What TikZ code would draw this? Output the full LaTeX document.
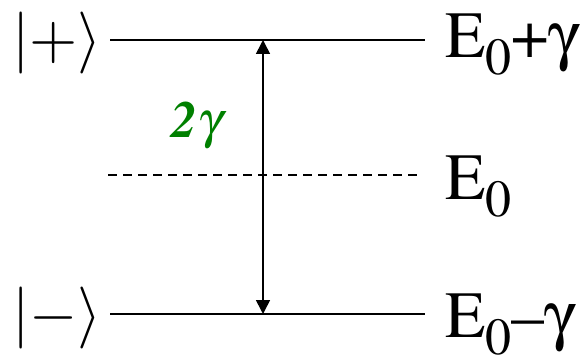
\RequirePackage{fix-cm}
\documentclass[tikz,border=0pt]{standalone}
\usepackage[T1]{fontenc}
\usepackage{mathptmx}
\usepackage{amsmath}
\usepackage{tikz}
\usetikzlibrary{positioning, arrows.meta}
\definecolor{splitgreen}{RGB}{0,128,0}
\newcommand{\lowzero}{\raisebox{-17pt}{\fontsize{52}{56}\selectfont 0}}
\newcommand{\upgam}{{\usefont{U}{psy}{m}{n}g}}

\begin{document}
\begin{tikzpicture}[x=1pt, y=-1pt,
    level/.style={line width=2pt},
    halflevel/.style={line width=2pt, dash pattern=on 9pt off 6pt},
    statelbl/.style={inner sep=0pt, anchor=west, font=\fontsize{62}{70}\selectfont},
    energylbl/.style={inner sep=0pt, anchor=base west, font=\fontsize{66}{72}\selectfont},
    gaplbl/.style={inner sep=0pt, text=splitgreen, font=\fontsize{52}{56}\selectfont\bfseries\itshape}]
    \useasboundingbox (0,0) rectangle (583,358);
    % ---------------- levels
    \coordinate (pl) at (110,40);  \coordinate (pr) at (425,40);
    \coordinate (zl) at (108,175); \coordinate (zr) at (420,175);
    \coordinate (ml) at (110,314); \coordinate (mr) at (425,314);
    \draw[level] (pl) -- (pr);
    \draw[halflevel] (zl) -- (zr);
    \draw[level] (ml) -- (mr);
    % ---------------- splitting
    \coordinate (up) at (263,40);
    \coordinate (dn) at (263,314);
    \draw[line width=1.6pt, {Triangle[length=14pt, width=14pt]}-{Triangle[length=14pt, width=14pt]}] (up) -- (dn);
    \node[gaplbl] (gap) at (197,126) {2$\boldsymbol{\gamma}$};
    % ---------------- labels
    \node[statelbl] (plus) at (12,43) {$|{+}\rangle$};
    \node[statelbl] (minus) at (12,318) {$|{-}\rangle$};
    \node[energylbl] (eplus) at (445,58) {E\lowzero+\upgam};
    \node[energylbl] (ezero) at (445,200) {E\lowzero};
    \node[energylbl] (eminus) at (445,337) {E\lowzero--\upgam};
\end{tikzpicture}
\end{document}
